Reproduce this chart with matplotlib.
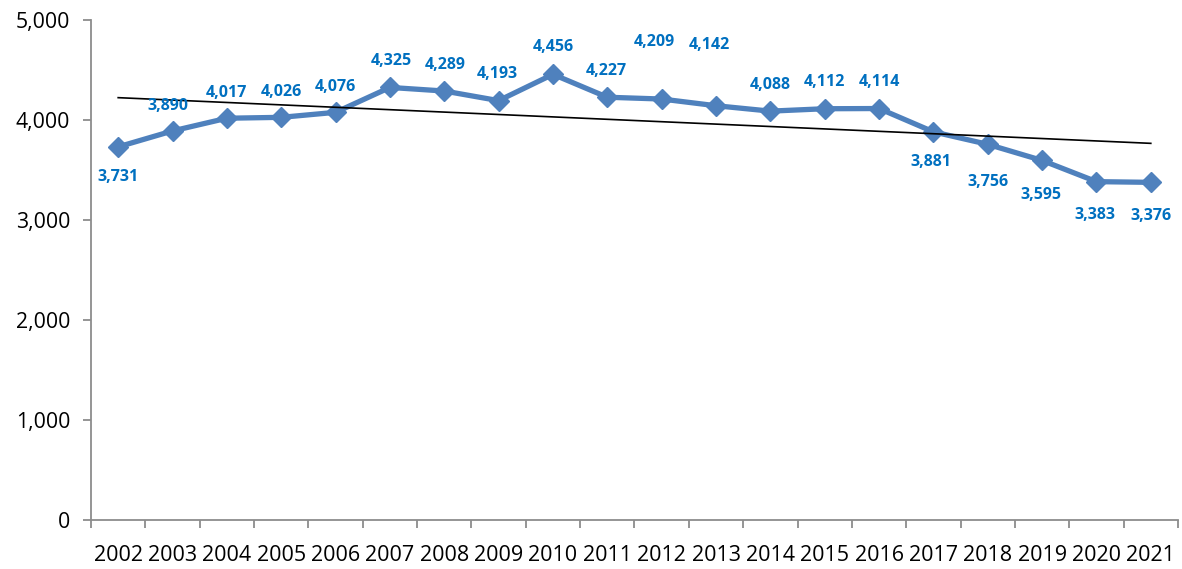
import numpy as np
import matplotlib.pyplot as plt

years = [str(y) for y in range(2002, 2022)]
values = [3731, 3890, 4017, 4026, 4076, 4325, 4289, 4193, 4456, 4227,
          4209, 4142, 4088, 4112, 4114, 3881, 3756, 3595, 3383, 3376]
# label offsets in points (dx, dy) relative to each marker
label_dx = [0, -3, 0, 0, 0, 1, 1, -1, 0, -1, -5, -5, 0, 0, 0, -2, 0, -1, -1, 0]
label_dy = [22, -18, -18, -18, -18, -19, -19, -19, -20, -19,
            -41, -44, -19, -19, -19, 22, 27, 25, 24, 24]

plt.rcParams['font.family'] = ['Open Sans', 'DejaVu Sans']

fig = plt.figure(figsize=(11.82, 5.69), dpi=100)
ax = fig.add_axes([0.077, 0.0861, 0.9196, 0.8789])

x = np.arange(len(years))
ax.plot(x, values, color='#4F81BD', linewidth=3.8, marker='D', markersize=10,
        markerfacecolor='#4F81BD', markeredgecolor='#4F81BD', zorder=3)

# linear trend line
coef = np.polyfit(x, values, 1)
ax.plot(x, np.polyval(coef, x), color='black', linewidth=1.2, zorder=4)

for i, v in enumerate(values):
    ax.annotate(f'{v:,}', (x[i], v), xytext=(label_dx[i], -label_dy[i]),
                textcoords='offset points', ha='center', va='center',
                color='#0070C0', fontsize=11.5, fontweight='bold', zorder=5)

ax.set_xlim(-0.5, len(years) - 0.5)
ax.set_ylim(0, 5000)
ax.set_yticks(range(0, 5001, 1000))
ax.set_yticklabels([f'{t:,}' for t in range(0, 5001, 1000)], fontsize=15.3)
ax.set_xticks(x)
ax.set_xticklabels(years, fontsize=15.5)
ax.set_xticks(np.arange(-0.5, len(years), 1), minor=True)
ax.tick_params(axis='x', which='major', length=0, pad=18)
ax.tick_params(axis='x', which='minor', length=6, width=1.3, color='#8C8C8C')
ax.tick_params(axis='y', length=6, width=1.3, color='#8C8C8C', pad=9)

for s in ['top', 'right']:
    ax.spines[s].set_visible(False)
for s in ['left', 'bottom']:
    ax.spines[s].set_color('#8C8C8C')
    ax.spines[s].set_linewidth(1.3)

fig.savefig('out.png', dpi=100)
